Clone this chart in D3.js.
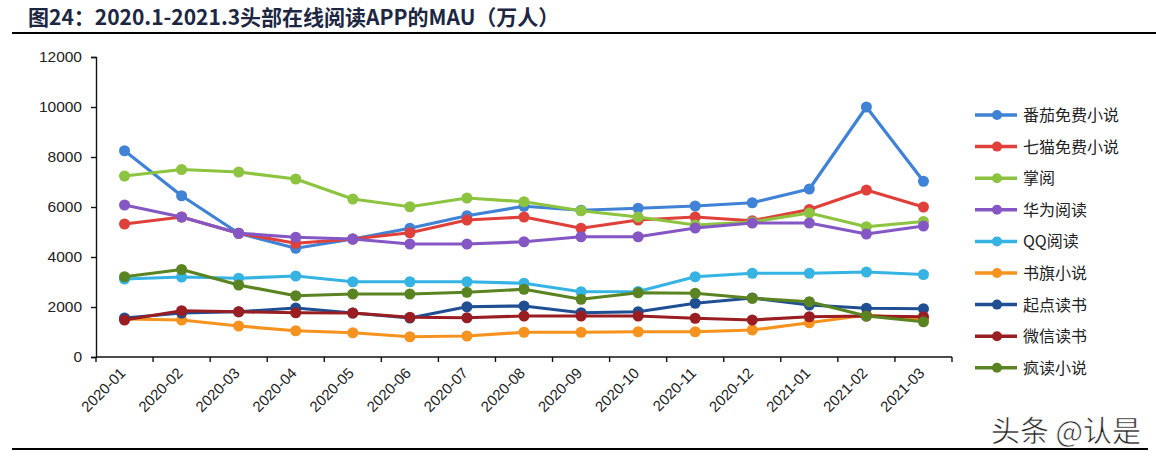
<!DOCTYPE html>
<html>
<head>
<meta charset="utf-8">
<script src="https://cdn.jsdelivr.net/npm/d3@7"></script>
<style>
  body { margin: 0; background: #fff; }
  svg { display: block; font-family: "Liberation Sans", Arial, sans-serif; }
</style>
</head>
<body>
<div id="chart"></div>
<script>
// months on the x axis
const months = ['2020-01','2020-02','2020-03','2020-04','2020-05','2020-06','2020-07','2020-08',
  '2020-09','2020-10','2020-11','2020-12','2021-01','2021-02','2021-03'];

const yTicks = [0, 2000, 4000, 6000, 8000, 10000, 12000];

// MAU, 万人
const fanqie  = [8250, 6450, 4950, 4350, 4720, 5150, 5650, 6030, 5870, 5950, 6040, 6170, 6720, 10000, 7030];
const qimao   = [5320, 5600, 4950, 4550, 4720, 4970, 5480, 5600, 5150, 5480, 5600, 5450, 5900, 6680, 6000];
const zhangyue= [7240, 7500, 7400, 7120, 6320, 6010, 6360, 6210, 5850, 5600, 5280, 5400, 5760, 5210, 5420];
const huawei  = [6080, 5600, 4950, 4790, 4720, 4520, 4520, 4610, 4810, 4810, 5160, 5360, 5360, 4920, 5240];
const qq      = [3120, 3200, 3150, 3240, 3010, 3010, 3010, 2950, 2610, 2620, 3210, 3350, 3350, 3400, 3300];
const shuqi   = [1520, 1480, 1240, 1050, 970, 810, 840, 990, 990, 1010, 1010, 1080, 1370, 1680, 1500];
const qidian  = [1560, 1760, 1810, 1960, 1760, 1560, 2010, 2040, 1770, 1810, 2150, 2360, 2080, 1950, 1930];
const weixin  = [1480, 1850, 1810, 1770, 1760, 1590, 1570, 1640, 1640, 1640, 1550, 1480, 1610, 1640, 1610];
const fengdu  = [3210, 3500, 2880, 2450, 2520, 2520, 2590, 2710, 2310, 2570, 2550, 2350, 2210, 1640, 1410];

const seriesNames = ['番茄免费小说','七猫免费小说','掌阅','华为阅读','QQ阅读','书旗小说','起点读书','微信读书','疯读小说'];
const seriesValues = [fanqie, qimao, zhangyue, huawei, qq, shuqi, qidian, weixin, fengdu];
const seriesColors = ['#3f82d6','#e0403a','#8cc440','#8557c4','#35b3e3','#f6931e','#1f4f92','#9a1d22','#5a8322'];

const W = 1156, H = 460;
const margin = {top: 57, left: 96, right: 204, bottom: 103};

const svg = d3.select('#chart').append('svg')
    .attr('width', W)
    .attr('height', H);

// title + rules
svg.append('text')
    .attr('x', 28).attr('y', 25)
    .attr('font-family', '"Noto Sans CJK SC", "Liberation Sans", sans-serif')
    .attr('font-size', 21).attr('font-weight', 'bold')
    .attr('fill', '#1d2742')
    .text('图24：2020.1-2021.3头部在线阅读APP的MAU（万人）');
svg.append('line').attr('x1', 12).attr('x2', W).attr('y1', 33).attr('y2', 33)
    .attr('stroke', '#000').attr('stroke-width', 2.2);
svg.append('line').attr('x1', 12).attr('x2', 1148).attr('y1', 449).attr('y2', 449)
    .attr('stroke', '#000').attr('stroke-width', 2.2);

const x = d3.scaleBand()
    .domain(months)
    .range([margin.left, W - margin.right]);

const y = d3.scaleLinear()
    .domain([0, 12000])
    .range([H - margin.bottom, margin.top]);

const g = svg.append('g');

// y axis
const yAxis = d3.axisLeft(y).tickValues(yTicks).tickFormat(d3.format('d')).tickSize(5).tickPadding(9);
g.append('g')
    .attr('transform', 'translate(' + margin.left + ',0)')
    .call(yAxis)
    .call(s => s.selectAll('path,line').attr('stroke', '#111').attr('stroke-width', 1.4))
    .call(s => s.selectAll('text').attr('font-size', 15.5).attr('fill', '#222')
        .attr('font-family', '"Liberation Sans", Arial, sans-serif'));

// x axis: ticks at band edges
const xEdges = months.map(m => x(m)).concat([x.range()[1]]);
const xg = g.append('g').attr('transform', 'translate(0,' + y(0) + ')');
xg.append('line')
    .attr('x1', margin.left).attr('x2', x.range()[1])
    .attr('stroke', '#111').attr('stroke-width', 1.4);
xg.selectAll('.tk').data(xEdges).enter().append('line')
    .attr('class', 'tk')
    .attr('x1', d => d).attr('x2', d => d)
    .attr('y1', 0).attr('y2', 5)
    .attr('stroke', '#111').attr('stroke-width', 1.4);
xg.selectAll('.lbl').data(months).enter().append('text')
    .attr('class', 'lbl')
    .attr('transform', d => 'translate(' + (x(d) + x.bandwidth() / 2 + 2) + ',17) rotate(-45)')
    .attr('text-anchor', 'end')
    .attr('font-size', 15)
    .attr('fill', '#222')
    .text(d => d);

// series
const line = d3.line()
    .x((d, i) => x(months[i]) + x.bandwidth() / 2)
    .y(d => y(d));

seriesValues.forEach(function(vals, k){
    const s = g.append('g').attr('class', 'series');
    s.append('path')
        .datum(vals)
        .attr('d', line)
        .attr('fill', 'none')
        .attr('stroke', seriesColors[k])
        .attr('stroke-width', 3.2)
        .attr('stroke-linejoin', 'round');
    s.selectAll('circle').data(vals).enter().append('circle')
        .attr('cx', (d, i) => x(months[i]) + x.bandwidth() / 2)
        .attr('cy', d => y(d))
        .attr('r', 5.5)
        .attr('fill', seriesColors[k]);
});

// legend
const legend = svg.append('g').attr('transform', 'translate(975,115)');
const items = legend.selectAll('g').data(seriesNames).enter().append('g')
    .attr('transform', (d, i) => 'translate(0,' + i * 31.6 + ')');
items.append('line')
    .attr('x1', 0).attr('x2', 42)
    .attr('stroke', (d, i) => seriesColors[i])
    .attr('stroke-width', 3.5);
items.append('circle')
    .attr('cx', 22).attr('r', 5)
    .attr('fill', (d, i) => seriesColors[i]);
items.append('text')
    .attr('x', 48).attr('y', 6)
    .attr('font-family', '"Noto Sans CJK SC", sans-serif')
    .attr('font-size', 16)
    .attr('fill', '#222')
    .text(d => d);

// watermark
svg.append('text')
    .attr('x', 1141).attr('y', 442)
    .attr('text-anchor', 'end')
    .attr('font-family', '"Noto Sans CJK SC", sans-serif')
    .attr('font-size', 29)
    .attr('fill', '#222')
    .attr('stroke', '#fff').attr('stroke-width', 0.6)
    .text('头条 @认是');
</script>
</body>
</html>
